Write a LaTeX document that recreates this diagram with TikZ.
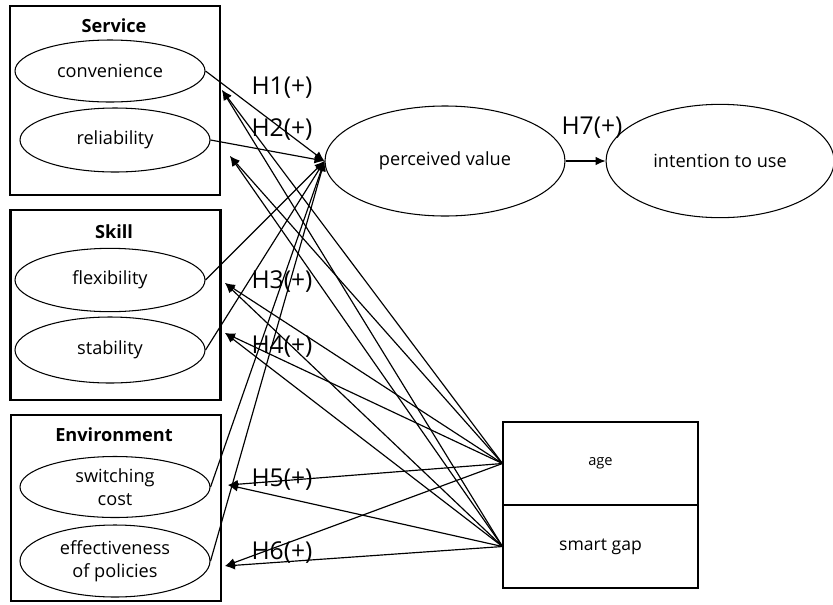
\documentclass[tikz,border=0pt]{standalone}
\usepackage{fontspec}
\setmainfont{Open Sans}
\usepackage{tikz}
\usetikzlibrary{arrows.meta,positioning,shapes.geometric}
\tikzset{
  >={Latex[length=3mm,width=2.6mm]},
  every node/.style={text=black},
  group/.style={draw,line width=1.8pt,minimum width=6.3cm},
  grouptitle/.style={font=\fontsize{15.5}{18}\selectfont\bfseries,inner sep=0pt},
  construct/.style={ellipse,draw,line width=0.9pt,inner sep=0pt,minimum width=5.7cm,minimum height=1.9cm,font=\fontsize{15.5}{20}\selectfont},
  lbl/.style={font=\fontsize{15.5}{20}\selectfont,align=center,inner sep=0pt},
  modbox/.style={draw,line width=0.9pt,minimum width=5.85cm,minimum height=2.49cm,font=\fontsize{15}{18}\selectfont},
  hyp/.style={font=\fontsize{21}{24}\selectfont,inner sep=0pt},
  hyparr/.style={->,line width=1pt},
  modarr/.style={->,line width=1pt}
}

\begin{document}
\begin{tikzpicture}[x=0.03cm,y=-0.03cm]
  \useasboundingbox (0,0) rectangle (833,604);

  % the three groups of factors
  \node[group,minimum height=5.67cm] (service) at (115,100.5) {};
  \node[grouptitle] (servicetitle) at (114,26) {Service};
  \node[construct,minimum height=1.86cm] (conv) at (110,71) {convenience};
  \node[construct,minimum height=1.92cm] (rel) at (115,140) {reliability};

  \node[group,minimum height=5.7cm] (skill) at (115.5,305) {};
  \node[grouptitle] (skilltitle) at (114,232) {Skill};
  \node[construct] (flex) at (110,280) {flexibility};
  \node[construct,minimum height=1.98cm] (stab) at (110,350) {stability};

  \node[group,minimum height=5.58cm] (env) at (116,508) {};
  \node[grouptitle] (envtitle) at (114,435) {Environment};
  \node[construct,minimum height=1.83cm,label={[lbl]center:switching\\cost}] (switch) at (115,487) {};
  \node[construct,minimum height=2.16cm,label={[lbl]center:effectiveness\\of policies}] (policy) at (115,561) {};

  % outcome constructs
  \node[construct,minimum width=7.2cm,minimum height=3.3cm] (pv) at (445,161) {perceived value};
  \node[construct,minimum width=6.84cm,minimum height=3.4cm,right=1.2cm of pv] (intent) {intention to use};

  % moderators
  \node[modbox,font=\fontsize{12.5}{15}\selectfont] (age) at (600.5,463.5) {age};
  \node[modbox,below=-0.9pt of age] (gap) {smart gap};

  % where the moderating arrows end
  \coordinate (m1) at (222,90);
  \coordinate (m2) at (230,156);
  \coordinate (m3) at (225,283);
  \coordinate (m4) at (225,333);
  \coordinate (m5) at (228,485);
  \coordinate (m6) at (225,566);

  \draw[hyparr] (conv.east) -- (pv.west);
  \draw[hyparr] (rel.east) -- (pv.west);
  \draw[hyparr] (flex.east) -- (pv.west);
  \draw[hyparr] (stab.east) -- (pv.west);
  \draw[hyparr] (switch.east) -- (pv.west);
  \draw[hyparr] (policy.east) -- (pv.west);
  \draw[hyparr] (pv.east) -- (intent.west);

  \draw[modarr] (age.west) -- (m1);
  \draw[modarr] (gap.west) -- (m1);
  \draw[modarr] (age.west) -- (m2);
  \draw[modarr] (gap.west) -- (m2);
  \draw[modarr] (age.west) -- (m3);
  \draw[modarr] (gap.west) -- (m3);
  \draw[modarr] (age.west) -- (m4);
  \draw[modarr] (gap.west) -- (m4);
  \draw[modarr] (age.west) -- (m5);
  \draw[modarr] (gap.west) -- (m5);
  \draw[modarr] (age.west) -- (m6);
  \draw[modarr] (gap.west) -- (m6);

  % hypothesis labels
  \node[hyp] (h1) at (282,88) {H1(+)};
  \node[hyp] (h2) at (282,130) {H2(+)};
  \node[hyp] (h3) at (282,282) {H3(+)};
  \node[hyp] (h4) at (282,347) {H4(+)};
  \node[hyp] (h5) at (282,480) {H5(+)};
  \node[hyp] (h6) at (282,553) {H6(+)};
  \node[hyp] (h7) at (592,128) {H7(+)};
\end{tikzpicture}
\end{document}
